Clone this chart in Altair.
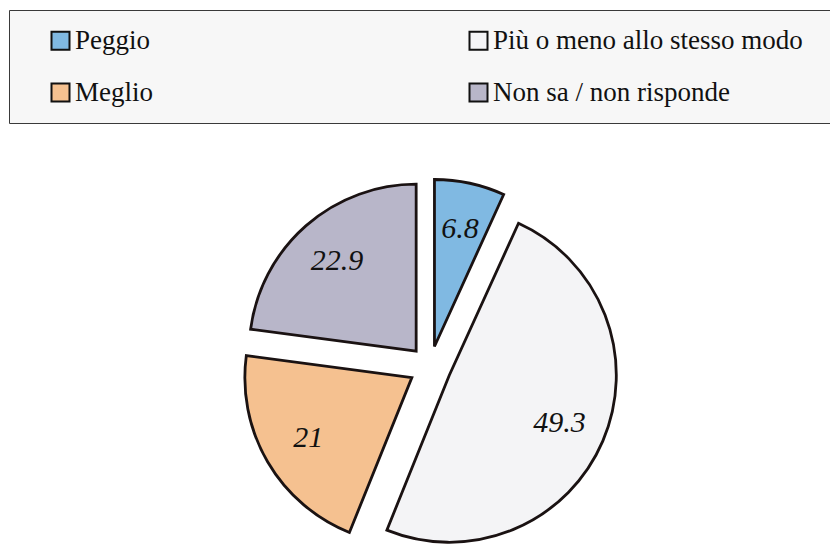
import altair as alt
import pandas as pd

categories = ["Peggio", "Più o meno allo stesso modo", "Meglio", "Non sa / non risponde"]
values = [6.8, 49.3, 21, 22.9]
colors = ["#80b9e2", "#f4f4f6", "#f5c190", "#b8b6c9"]

df = pd.DataFrame({"cat": categories, "value": values, "order": list(range(len(values)))})

CX, CY, R, EXPLODE, LR = 422, 359, 167, 21, 120

base = (
    alt.Chart(df)
    .transform_window(cum="sum(value)", sort=[alt.SortField("order")], frame=[None, 0])
    .transform_joinaggregate(total="sum(value)")
    .transform_calculate(t1="datum.cum / datum.total * 2 * PI")
    .transform_calculate(t0="(datum.cum - datum.value) / datum.total * 2 * PI")
    .transform_calculate(mid="(datum.t0 + datum.t1) / 2")
    .transform_calculate(cx=f"{CX} + {EXPLODE} * sin(datum.mid)")
    .transform_calculate(cy=f"{CY} - {EXPLODE} * cos(datum.mid)")
    .transform_calculate(lx=f"datum.cx + {LR} * sin(datum.mid)")
    .transform_calculate(ly=f"datum.cy - {LR} * cos(datum.mid)")
)

arcs = base.mark_arc(radius=R, stroke="#1a1212", strokeWidth=2.8, strokeJoin="miter").encode(
    theta=alt.Theta("t0:Q", scale=None),
    theta2="t1:Q",
    x=alt.X("cx:Q", scale=None, axis=None),
    y=alt.Y("cy:Q", scale=None, axis=None),
    color=alt.Color(
        "cat:N",
        scale=alt.Scale(domain=categories, range=colors),
        legend=alt.Legend(
            title=" ",
            titleOrient="right",
            titlePadding=45,
            titleFontSize=10,
            orient="none",
            direction="horizontal",
            legendX=1,
            legendY=2,
            columns=2,
            fillColor="#f7f7f7",
            strokeColor="#3a3a3a",
            padding=17,
            rowPadding=24,
            columnPadding=291,
            labelFont="Liberation Serif",
            labelFontSize=27,
            labelColor="#111111",
            labelLimit=500,
            labelOffset=1,
            symbolOffset=21,
            symbolType="square",
            symbolSize=324,
            symbolStrokeColor="#111111",
            symbolStrokeWidth=2,
            symbolOpacity=1,
        ),
    ),
)

labels = base.mark_text(
    font="Liberation Serif", fontStyle="italic", fontSize=30, color="#111111"
).encode(
    x=alt.X("lx:Q", scale=None, axis=None),
    y=alt.Y("ly:Q", scale=None, axis=None),
    text=alt.Text("value:Q"),
)

chart = (
    alt.layer(arcs, labels)
    .properties(width=822, height=538, autosize=alt.AutoSizeParams(type="none"), padding=0, background="white")
    .configure_view(stroke=None)
)

chart.save("out.html", embed_options={"renderer": "svg", "actions": False})
